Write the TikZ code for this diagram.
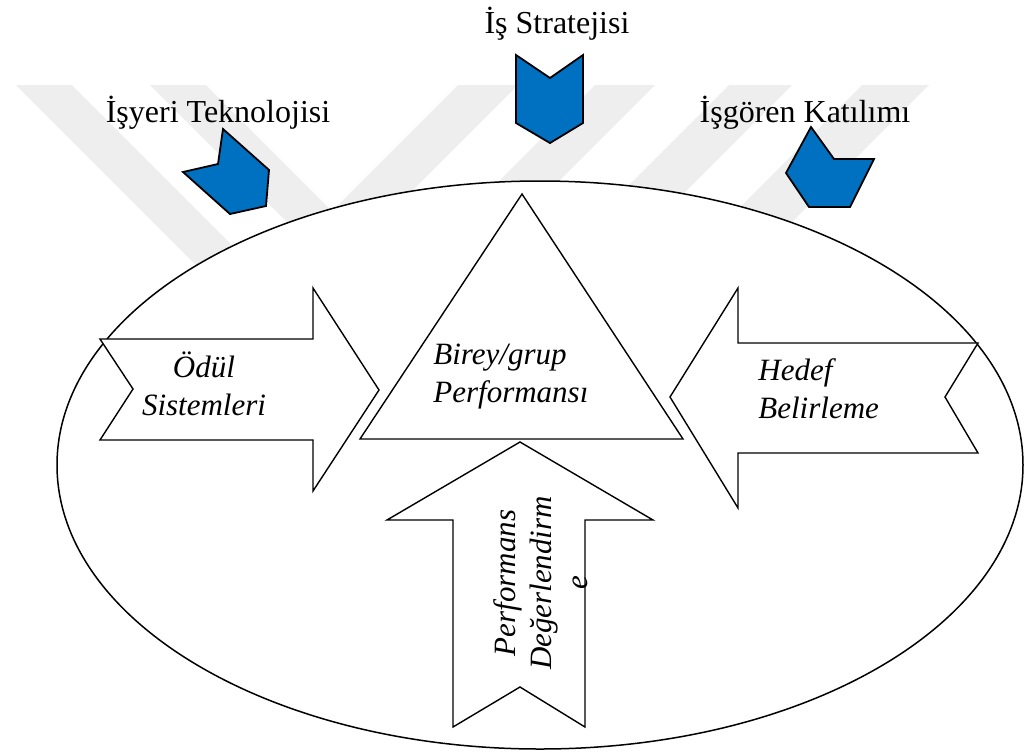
\documentclass[tikz,border=0pt]{standalone}
\usepackage{fontspec}
\setmainfont{Liberation Serif}
\definecolor{badgeblue}{RGB}{0,112,192}
\definecolor{markgray}{RGB}{238,238,238}
\begin{document}
\begin{tikzpicture}[x=0.5pt,y=-0.5pt,
  outline/.style={draw=black,line width=0.7pt,fill=white,line join=miter},
  badge/.style={draw=black,line width=0.9pt,fill=badgeblue,line join=miter},
  stripe/.style={fill=markgray,draw=none},
  toplabel/.style={font=\fontsize{16}{19}\selectfont,inner sep=0pt,anchor=base},
  inlabel/.style={font=\fontsize{15.5}{19}\selectfont\itshape,inner sep=0pt}]
\useasboundingbox (0,0) rectangle (1024,751);

% faint diagonal background stripes
\fill[stripe] (16,85) -- (72,85) -- (317,330) -- (261,330) -- cycle;
\fill[stripe] (150,85) -- (206,85) -- (451,330) -- (395,330) -- cycle;
\fill[stripe] (458,85) -- (518,85) -- (273,330) -- (213,330) -- cycle;
\fill[stripe] (595,85) -- (655,85) -- (410,330) -- (350,330) -- cycle;
\fill[stripe] (729,85) -- (792,85) -- (547,330) -- (484,330) -- cycle;
\fill[stripe] (862,85) -- (929,85) -- (684,330) -- (617,330) -- cycle;

% the enclosing ellipse
\draw[line width=0.75pt,fill=white] (540,465) ellipse [x radius=483, y radius=284];

% central triangle
\draw[outline] (522,194) -- (683,439) -- (360,439) -- cycle;

% block arrows pointing at the triangle
\draw[outline] (100,339) -- (313,339) -- (313,288) -- (379,390) -- (313,491)
  -- (313,440) -- (100,440) -- (133,389) -- cycle;
\draw[outline] (670,397) -- (738,288) -- (738,343) -- (978,343) -- (945,397)
  -- (978,453) -- (738,453) -- (738,508) -- cycle;
\draw[outline] (520,442) -- (653,520) -- (585,520) -- (585,727) -- (520,687)
  -- (453,727) -- (453,520) -- (387,520) -- cycle;

% blue chevron badges
\draw[badge] (516,55) -- (550,78) -- (583,55) -- (583,123) -- (550,143) -- (516,123) -- cycle;
\draw[badge] (223,129) -- (269,170) -- (266,206) -- (230,214) -- (183,172) -- (218,164) -- cycle;
\draw[badge] (811,127) -- (834,159) -- (874,159) -- (850,207) -- (809,207) -- (786,173) -- cycle;

% labels
\node[toplabel] (strat) at (557,33) {İş Stratejisi};
\node[toplabel] (tech) at (218,122) {İşyeri Teknolojisi};
\node[toplabel] (part) at (805,122) {İşgören Katılımı};

\node[inlabel,align=left,anchor=west] (perf) at (433,377) {Birey/grup\\Performansı};
\node[inlabel,align=center] (reward) at (204,384) {Ödül\\Sistemleri};
\node[inlabel,align=left,anchor=west] (goal) at (758,389) {Hedef\\Belirleme};
\node[inlabel,align=center,rotate=90,font=\fontsize{15.5}{18}\selectfont\itshape] (appr) at (541,583) {Performans\\Değerlendirm\\e};
\end{tikzpicture}
\end{document}
